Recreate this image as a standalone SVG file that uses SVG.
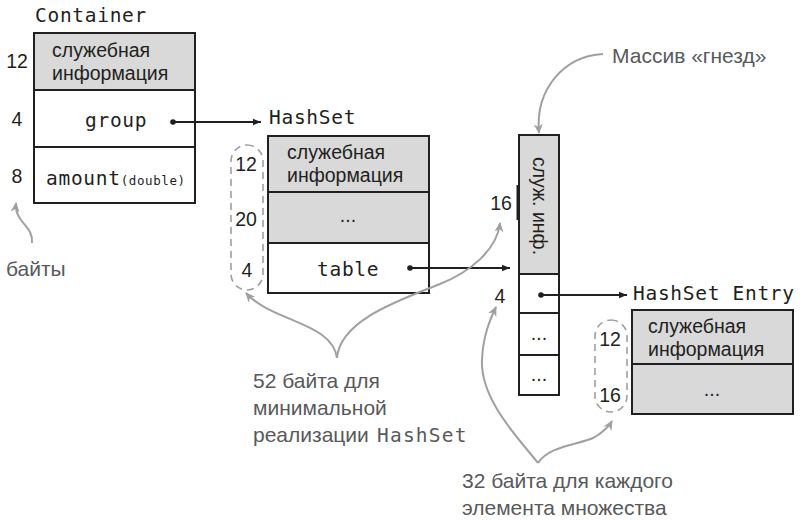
<svg xmlns="http://www.w3.org/2000/svg" width="800" height="521" viewBox="0 0 800 521">
<defs>
<style>
.box{fill:#fff;stroke:#231f20;stroke-width:2}
.g{fill:#d9d9d9}
.sans{font-family:"Liberation Sans",Arial,sans-serif;font-size:19.5px;fill:#231f20}
.note{font-family:"Liberation Sans",Arial,sans-serif;font-size:21px;fill:#58595b}
.mono{font-family:"DejaVu Sans Mono",monospace;font-size:19.5px;letter-spacing:0.7px;fill:#231f20}
.monosm{font-family:"DejaVu Sans Mono",monospace;font-size:12.5px;letter-spacing:0.6px;fill:#231f20}
.ptr{fill:none;stroke:#231f20;stroke-width:2.2}
.gc{fill:none;stroke:#a0a0a0;stroke-width:2}
.dash{fill:none;stroke:#a0a0a0;stroke-width:1.6;stroke-dasharray:7 5}
.mid{text-anchor:middle}
</style>
<marker id="ab" viewBox="0 0 10 10" refX="10" refY="5" markerWidth="9" markerHeight="8" markerUnits="userSpaceOnUse" orient="auto"><path d="M0,1 L10,5 L0,9 z" fill="#231f20"/></marker>
<marker id="ag" viewBox="0 0 10 10" refX="9" refY="5" markerWidth="10" markerHeight="10" markerUnits="userSpaceOnUse" orient="auto"><path d="M0,0.5 L10,5 L0,9.5 L3,5 z" fill="#a0a0a0"/></marker>
</defs>

<g id="container">
<text class="mono" x="35" y="22">Container</text>
<rect class="box g" x="34" y="33" width="161" height="57"/>
<rect class="box" x="34" y="90" width="161" height="57"/>
<rect class="box" x="34" y="147" width="161" height="56"/>
<text class="sans" x="52" y="57">служебная</text>
<text class="sans" x="52" y="80">информация</text>
<text class="mono" x="85" y="127">group</text>
<text x="46" y="185"><tspan class="mono">amount</tspan><tspan class="monosm">(double)</tspan></text>
<text class="sans mid" x="17" y="68">12</text>
<text class="sans mid" x="17" y="126">4</text>
<text class="sans mid" x="17" y="183">8</text>
</g>

<g id="hashset">
<text class="mono" x="269" y="124">HashSet</text>
<rect class="box g" x="268" y="136" width="161" height="56"/>
<rect class="box g" x="268" y="192" width="161" height="51"/>
<rect class="box" x="268" y="243" width="161" height="50"/>
<text class="sans" x="287" y="159">служебная</text>
<text class="sans" x="287" y="182">информация</text>
<text class="sans mid" x="348" y="222">...</text>
<text class="mono" x="317" y="276">table</text>
<rect class="dash" x="231" y="145" width="32" height="145" rx="16" ry="16"/>
<text class="sans mid" x="246" y="171">12</text>
<text class="sans mid" x="246" y="226">20</text>
<text class="sans mid" x="247" y="277">4</text>
</g>

<g id="array">
<rect class="box g" x="519" y="135" width="40" height="139"/>
<rect class="box" x="519" y="274" width="40" height="39"/>
<rect class="box" x="519" y="313" width="40" height="42"/>
<rect class="box" x="519" y="355" width="40" height="40"/>
<line x1="518" y1="185" x2="518" y2="220" stroke="#231f20" stroke-width="3"/>
<text class="sans mid" transform="translate(533,206) rotate(90)">служ. инф.</text>
<text class="sans mid" x="539" y="340">...</text>
<text class="sans mid" x="539" y="381">...</text>
<text class="sans mid" x="501" y="210">16</text>
<text class="sans mid" x="500" y="303">4</text>
</g>

<g id="entry">
<text class="mono" x="633" y="300">HashSet Entry</text>
<rect class="box g" x="632" y="310" width="161" height="54"/>
<rect class="box g" x="632" y="364" width="161" height="50"/>
<text class="sans" x="648" y="333">служебная</text>
<text class="sans" x="648" y="356">информация</text>
<text class="sans mid" x="712" y="396">...</text>
<rect class="dash" x="595" y="320" width="32" height="92" rx="16" ry="16"/>
<text class="sans mid" x="610" y="346">12</text>
<text class="sans mid" x="610" y="402">16</text>
</g>

<g id="notes">
<text class="note" x="6" y="276">байты</text>
<text class="note" x="612" y="63">Массив «гнезд»</text>
<text class="note" x="253" y="388">52 байта для</text>
<text class="note" x="253" y="415">минимальной</text>
<text class="note" x="253" y="442">реализации <tspan x="377" font-family="DejaVu Sans Mono,monospace" font-size="19.5" letter-spacing="1.2">HashSet</tspan></text>
<text class="note" x="462" y="488">32 байта для каждого</text>
<text class="note" x="462" y="515">элемента множества</text>
</g>

<g id="connectors">
<circle cx="173" cy="122" r="2.8" fill="#231f20"/>
<path class="ptr" d="M173,122 H261" marker-end="url(#ab)"/>
<circle cx="410" cy="268" r="2.8" fill="#231f20"/>
<path class="ptr" d="M410,268 H510" marker-end="url(#ab)"/>
<circle cx="541" cy="295" r="2.8" fill="#231f20"/>
<path class="ptr" d="M541,295 H627" marker-end="url(#ab)"/>
<path class="gc" d="M32,243 C34,226 14,222 16,203" marker-end="url(#ag)"/>
<path class="gc" d="M603,54 C565,56 535,88 539,133" marker-end="url(#ag)"/>
<path class="gc" d="M337,358 C332,322 272,322 246,293" marker-end="url(#ag)"/>
<path class="gc" d="M337,358 C340,320 400,300 440,284 C470,272 497,250 500,223" marker-end="url(#ag)"/>
<path class="gc" d="M538,463 C520,440 480,400 482,360 C483,335 490,320 496,307" marker-end="url(#ag)"/>
<path class="gc" d="M538,463 C550,445 580,445 595,437 C603,432 608,428 612,421" marker-end="url(#ag)"/>
</g>
</svg>
